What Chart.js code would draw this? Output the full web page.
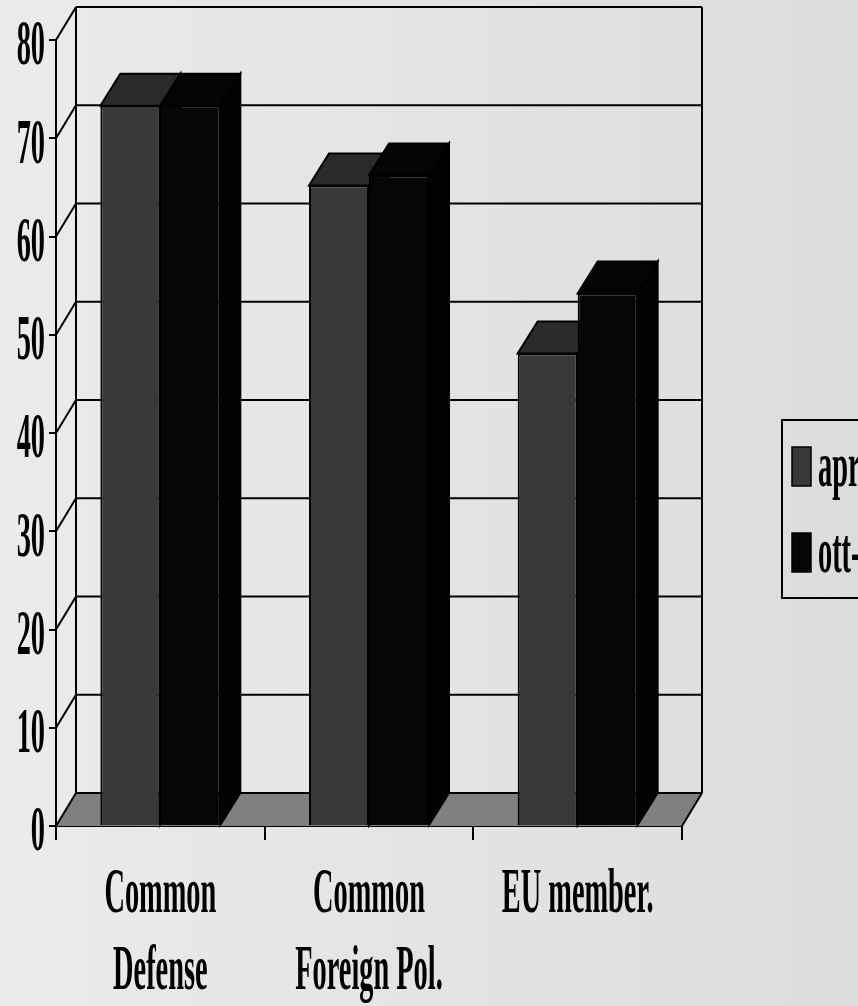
<!DOCTYPE html>
<html>
<head>
<meta charset="utf-8">
<script src="https://cdn.jsdelivr.net/npm/chart.js@4/dist/chart.umd.min.js"></script>
<style>
  html, body { margin: 0; padding: 0; overflow: hidden; background: #e3e3e3; }
  #wrap { width: 858px; height: 1006px; position: relative; }
  canvas { display: block; }
</style>
</head>
<body>
<div id="wrap"><canvas id="c" width="858" height="1006"></canvas></div>
<script>
// ---- data ----
const categories = [["Common", "Defense"], ["Common", "Foreign Pol."], ["EU member."]];
const seriesNames = ["apr-03", "ott-03"];
const aprValues = [73.3, 65.2, 48.1];
const ottValues = [73.3, 66.2, 54.2];
const yTickValues = [0, 10, 20, 30, 40, 50, 60, 70, 80];

// ---- look ----
const FONT_FAMILY = "'Liberation Serif', 'Times New Roman', serif";
const FONT_SIZE = 63;
const SX = 0.45;             // horizontal squeeze of all lettering
const DEPTH_X = 20;          // 3D depth offset
const WALL_DY = -33;
const BAR_DY = -32;
const faceColors = [
  { front: "#383838", top: "#2b2b2b", side: "#262626" },
  { front: "#060606", top: "#050505", side: "#020202" }
];

const canvas = document.getElementById("c");
const ctx = canvas.getContext("2d");

// condensed lettering: every string is drawn and measured squeezed horizontally
const rawFill = ctx.fillText.bind(ctx);
const rawMeasure = ctx.measureText.bind(ctx);
ctx.fillText = function (text, x, y, maxWidth) {
  this.save();
  this.translate(x, y);
  this.scale(SX, 1);
  if (maxWidth !== undefined) rawFill(text, 0, 0, maxWidth / SX);
  else rawFill(text, 0, 0);
  this.restore();
};
ctx.measureText = function (text) {
  const m = rawMeasure(text);
  return {
    width: m.width * SX,
    actualBoundingBoxAscent: m.actualBoundingBoxAscent,
    actualBoundingBoxDescent: m.actualBoundingBoxDescent,
    actualBoundingBoxLeft: m.actualBoundingBoxLeft * SX,
    actualBoundingBoxRight: m.actualBoundingBoxRight * SX,
    fontBoundingBoxAscent: m.fontBoundingBoxAscent,
    fontBoundingBoxDescent: m.fontBoundingBoxDescent
  };
};

function poly(c, pts, fill, stroke, lw) {
  c.beginPath();
  c.moveTo(pts[0][0], pts[0][1]);
  for (let i = 1; i < pts.length; i++) c.lineTo(pts[i][0], pts[i][1]);
  c.closePath();
  if (fill) { c.fillStyle = fill; c.fill(); }
  if (stroke) { c.strokeStyle = stroke; c.lineWidth = lw || 2; c.lineJoin = "miter"; c.stroke(); }
}

function line(c, x1, y1, x2, y2, lw) {
  c.beginPath();
  c.moveTo(x1, y1);
  c.lineTo(x2, y2);
  c.strokeStyle = "#000";
  c.lineWidth = lw || 2;
  c.stroke();
}

// page background
const backgroundPlugin = {
  id: "backdrop",
  beforeDraw(chart) {
    const c = chart.ctx;
    const g = c.createLinearGradient(0, 0, chart.width, 0);
    g.addColorStop(0, "#ebebeb");
    g.addColorStop(1, "#dcdcdc");
    c.save();
    c.fillStyle = g;
    c.fillRect(0, 0, chart.width, chart.height);
    c.restore();
  }
};

// walls, floor, grid and the top/side faces of the bars
const box3dPlugin = {
  id: "box3d",
  beforeDatasetsDraw(chart) {
    const c = chart.ctx;
    const a = chart.chartArea;
    const ys = chart.scales.y;
    const y0 = ys.getPixelForValue(0);
    const yTop = ys.getPixelForValue(yTickValues[yTickValues.length - 1]);
    c.save();
    c.lineCap = "butt";

    // floor
    poly(c, [[a.left, y0], [a.right, y0], [a.right + DEPTH_X, y0 + WALL_DY], [a.left + DEPTH_X, y0 + WALL_DY]], "#808080", null);

    // back wall grid and side-wall diagonals
    yTickValues.forEach(v => {
      const y = ys.getPixelForValue(v);
      line(c, a.left + DEPTH_X, y + WALL_DY, a.right + DEPTH_X, y + WALL_DY, 2);
      line(c, a.left, y, a.left + DEPTH_X, y + WALL_DY, 2);
    });
    // back wall edges
    line(c, a.left + DEPTH_X, yTop + WALL_DY, a.left + DEPTH_X, y0 + WALL_DY, 2);
    line(c, a.right + DEPTH_X, yTop + WALL_DY, a.right + DEPTH_X, y0 + WALL_DY, 2);
    // floor right edge
    line(c, a.right, y0, a.right + DEPTH_X, y0 + WALL_DY, 2);

    // bar side and top faces, grouped by category, left bar first
    const metas = chart.data.datasets.map((d, i) => chart.getDatasetMeta(i));
    for (let k = 0; k < categories.length; k++) {
      metas.forEach((meta, di) => {
        const el = meta.data[k];
        if (!el) return;
        const p = el.getProps(["x", "y", "width", "base"], true);
        const l = p.x - p.width / 2, r = p.x + p.width / 2;
        const col = faceColors[di];
        poly(c, [[r, p.y], [r + DEPTH_X, p.y + BAR_DY], [r + DEPTH_X, p.base + BAR_DY], [r, p.base]], col.side, "#000", 2);
        poly(c, [[l, p.y], [r, p.y], [r + DEPTH_X, p.y + BAR_DY], [l + DEPTH_X, p.y + BAR_DY]], col.top, "#000", 2);
      });
    }
    c.restore();
  }
};

// boxed legend at the right
const legendBoxPlugin = {
  id: "legendBox",
  afterDraw(chart) {
    const c = chart.ctx;
    c.save();
    c.strokeStyle = "#000";
    c.lineWidth = 2;
    c.strokeRect(782, 420, 200, 178);
    c.font = "bold " + FONT_SIZE + "px " + FONT_FAMILY;
    c.textAlign = "left";
    c.textBaseline = "alphabetic";
    chart.data.datasets.forEach((ds, i) => {
      const top = 447 + i * 86;
      c.fillStyle = ds.backgroundColor;
      c.fillRect(792, top, 19, 39);
      c.lineWidth = 1.5;
      c.strokeRect(792, top, 19, 39);
      c.fillStyle = "#000";
      c.fillText(ds.label, 818, top + 39);
    });
    c.restore();
  }
};

new Chart(ctx, {
  type: "bar",
  data: {
    labels: categories,
    datasets: [
      { label: seriesNames[0], data: aprValues, backgroundColor: faceColors[0].front, borderColor: "#000", borderWidth: 2 },
      { label: seriesNames[1], data: ottValues, backgroundColor: faceColors[1].front, borderColor: "#000", borderWidth: 2 }
    ]
  },
  options: {
    responsive: false,
    animation: false,
    events: [],
    layout: { padding: { top: 40, right: 176, left: 0, bottom: 0 } },
    datasets: { bar: { barPercentage: 1.0, categoryPercentage: 0.575 } },
    plugins: { legend: { display: false }, tooltip: { enabled: false } },
    scales: {
      x: {
        grid: { offset: true, drawOnChartArea: false, drawTicks: true, tickLength: 14, color: "#000", lineWidth: 2 },
        border: { display: true, color: "#000", width: 2 },
        ticks: {
          color: "#000",
          padding: 17,
          maxRotation: 0,
          autoSkip: false,
          font: { family: FONT_FAMILY, size: FONT_SIZE, weight: "bold", lineHeight: 77 / FONT_SIZE }
        },
        afterFit(scale) { scale.height = 180; }
      },
      y: {
        min: 0,
        max: 80,
        afterBuildTicks(scale) { scale.ticks = yTickValues.map(v => ({ value: v })); },
        grid: { drawOnChartArea: false, drawTicks: true, tickLength: 7, color: "#000", lineWidth: 2 },
        border: { display: true, color: "#000", width: 2 },
        ticks: {
          color: "#000",
          padding: 4,
          labelOffset: 8,
          font: { family: FONT_FAMILY, size: FONT_SIZE, weight: "bold", lineHeight: 1.0 }
        },
        afterFit(scale) { scale.width = 56; }
      }
    }
  },
  plugins: [backgroundPlugin, box3dPlugin, legendBoxPlugin]
});
</script>
</body>
</html>
